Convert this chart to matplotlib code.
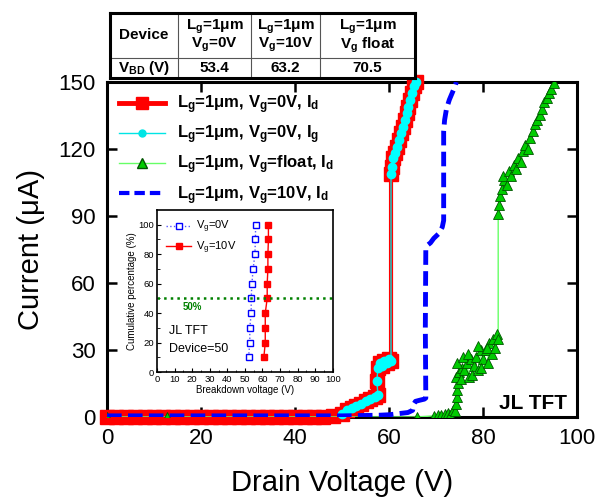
import matplotlib
matplotlib.use('Agg')
import matplotlib.pyplot as plt
from matplotlib.lines import Line2D

plt.rcParams['font.family'] = ['Liberation Sans', 'DejaVu Sans']
plt.rcParams['mathtext.fontset'] = 'custom'
plt.rcParams['mathtext.rm'] = 'Liberation Sans'
plt.rcParams['mathtext.bf'] = 'Liberation Sans:bold'
plt.rcParams['mathtext.it'] = 'Liberation Sans:italic'

# --- main curves ---
vd_0v = [0, 2, 4, 6, 8, 10, 12, 14, 16, 18, 20, 22, 24, 26, 28, 30, 32, 34, 36, 38, 40,
         42, 44, 46, 48, 50, 51, 52, 53, 54, 55, 56, 57, 57.6, 57.4, 57.6, 58, 58.5, 59,
         59.5, 60, 60.4, 60.4, 60.6, 60.9, 61.3, 61.7, 62.1, 62.5, 62.9, 63.3, 63.7, 64.1,
         64.5, 64.9, 65.3, 65.7]
id_0v = [0, 0, 0, 0, 0, 0, 0, 0, 0, 0, 0, 0, 0, 0, 0, 0, 0, 0, 0, 0, 0,
         0, 0, 0, 0.5, 1.5, 3, 4, 5, 6, 7, 8, 9, 10, 16, 22, 24, 23, 25, 24,
         26, 25, 109, 112, 116, 118, 121, 124, 127, 130, 133, 136, 139, 142,
         145, 148, 150]

vd_ig = [50, 51, 52, 53, 54, 55, 56, 57, 57.6, 57.4, 57.6, 58, 58.5, 59,
         59.5, 60, 60.4, 60.4, 60.6, 60.9, 61.3, 61.7, 62.1, 62.5, 62.9, 63.3, 63.7, 64.1,
         64.5, 64.9, 65.3, 65.7]
ig_0v = [1.5, 3, 4, 5, 6, 7, 8, 9, 10, 16, 22, 24, 23, 25, 24,
         26, 25, 109, 112, 116, 118, 121, 124, 127, 130, 133, 136, 139, 142,
         145, 148, 150]

vd_fl = [0, 12.8, 66, 69.5, 70.5, 71, 71.8, 72.5, 73, 73.5, 74, 74.2, 74.4, 74.5, 74.6, 74.3,
         74.8, 75.5, 74.5, 75.2, 76, 76.5, 77, 75.8, 77.5, 76.8, 78, 78.5, 77.6, 79, 79.5,
         78.8, 80, 80.5, 79.6, 81, 81.2, 81.8, 80.8, 82.2, 82.5, 83, 83.2, 83.2, 83.3, 83.5,
         84, 84.5, 84.2, 85, 85.5, 86, 86.5, 87, 87.5, 88, 88.5, 89, 89.5, 90, 90.5, 91,
         91.5, 92, 92.5, 93, 93.5, 94, 94.5, 95]
id_fl = [0, 0, 0, 0.5, 1, 0.8, 1.5, 2, 1, 3, 2.5, 6, 9, 12, 15, 18,
         20, 22, 24, 17, 21, 24, 18, 27, 26, 28, 23, 27, 19, 21, 30,
         32, 26, 30, 22, 24, 33, 28, 31, 35, 31, 37, 35, 91, 95, 99,
         102, 106, 108, 104, 110, 108, 113, 111, 116, 114, 119, 122, 120, 125, 128, 131,
         133, 135, 138, 141, 143, 145, 147, 149.5]

vd_10v = [0, 10, 20, 30, 40, 50, 58, 60, 62, 64, 65, 65.3, 65.6, 66.5, 67.5, 67.8, 67.7,
          67.8, 68.2, 68.8, 69.5, 70.5, 71.3, 71.6, 71.6, 71.8, 72.2, 72.8, 73.4, 74, 74.3]
id_10v = [0.5, 0.5, 0.5, 0.5, 0.5, 0.5, 0.8, 1, 1.5, 2, 3, 6, 7, 7.5, 8, 8.5, 40,
          75, 77, 78, 80, 82, 85, 88, 128, 133, 138, 142, 145, 148, 150]

# --- inset: cumulative distribution ---
cum_pct = [10, 20, 30, 40, 50, 60, 70, 80, 90, 100]
vbd_0v = [52.1, 52.8, 52.8, 53.6, 53.6, 54.0, 54.7, 55.7, 56.0, 56.1]
vbd_10v = [60.8, 61.6, 61.6, 61.6, 62.7, 62.7, 63.1, 63.1, 63.4, 63.4]

# --- table ---
tab_cols = ['Device', 'L$_\\mathbf{g}$=1μm|V$_\\mathbf{g}$=0V',
            'L$_\\mathbf{g}$=1μm|V$_\\mathbf{g}$=10V', 'L$_\\mathbf{g}$=1μm|V$_\\mathbf{g}$ float']
tab_vals = ['V$_\\mathbf{BD}$ (V)', '53.4', '63.2', '70.5']

fig = plt.figure(figsize=(6.05, 5.03), dpi=100)
ax = fig.add_axes([0.177, 0.171, 0.777, 0.666])

ax.plot(vd_0v, id_0v, color='red', lw=3, marker='s', ms=10, mec='red', mfc='red',
        zorder=3, clip_on=False)
ax.plot(vd_ig, ig_0v, color='#00e5e5', lw=1, marker='o', ms=6, mec='#00ffff',
        mfc='#00ffff', zorder=4, clip_on=False)
ax.plot(vd_fl, id_fl, color='#66ff66', lw=1, marker='^', ms=7, mfc='#00cc00',
        mec='#005500', mew=0.6, zorder=5)
ax.plot(vd_10v, id_10v, color='blue', lw=3.5, ls=(0, (3, 1.3)), zorder=6)

ax.set_xlim(0, 100)
ax.set_ylim(0, 150)
ax.set_xticks([0, 20, 40, 60, 80, 100])
ax.set_yticks([0, 30, 60, 90, 120, 150])
ax.tick_params(direction='in', length=7, width=1.8, labelsize=16, top=True, right=True,
               pad=8)
for s in ax.spines.values():
    s.set_linewidth(2.2)
    s.set_zorder(2.5)
ax.set_xlabel('Drain Voltage (V)', fontsize=21, labelpad=14)
ax.set_ylabel('Current (μA)', fontsize=21, labelpad=10)
ax.text(90.5, 6, 'JL TFT', fontsize=15, fontweight='bold', ha='center', va='center')

handles = [
    Line2D([], [], color='red', lw=3.5, marker='s', ms=9),
    Line2D([], [], color='#00e5e5', lw=1, marker='o', ms=5, mfc='#00e5e5', mec='#00e5e5'),
    Line2D([], [], color='#66ff66', lw=1, marker='^', ms=7, mfc='#00cc00', mec='#005500'),
    Line2D([], [], color='blue', lw=3, ls=(0, (2.5, 1.2))),
]
labels = ['L$_\\mathbf{g}$=1μm, V$_\\mathbf{g}$=0V, I$_\\mathbf{d}$',
          'L$_\\mathbf{g}$=1μm, V$_\\mathbf{g}$=0V, I$_\\mathbf{g}$',
          'L$_\\mathbf{g}$=1μm, V$_\\mathbf{g}$=float, I$_\\mathbf{d}$',
          'L$_\\mathbf{g}$=1μm, V$_\\mathbf{g}$=10V, I$_\\mathbf{d}$']
ax.legend(handles, labels, loc='upper left', bbox_to_anchor=(0.0, 1.0), frameon=False,
          prop={'size': 12, 'weight': 'bold'}, handlelength=2.8, handletextpad=0.7,
          labelspacing=0.45, borderaxespad=0.3)

# inset
ins = fig.add_axes([0.2595, 0.2604, 0.2905, 0.3221])
ins.set_zorder(10)
ins.plot(vbd_0v, cum_pct, color='#5555ff', lw=1, ls=':', marker='s', ms=4.5,
         mfc='white', mec='blue', mew=1, label='V$_\\mathrm{g}$=0V')
ins.plot(vbd_10v, cum_pct, color='red', lw=1, marker='s', ms=4.5, mfc='red',
         mec='red', label='V$_\\mathrm{g}$=10V')
ins.axhline(50, color='green', ls=':', lw=1.8)
ins.set_xlim(0, 100)
ins.set_ylim(0, 110)
ins.set_xticks([0, 10, 20, 30, 40, 50, 60, 70, 80, 90, 100])
ins.set_xticks([5, 15, 25, 35, 45, 55, 65, 75, 85, 95], minor=True)
ins.set_yticks([0, 20, 40, 60, 80, 100])
ins.set_yticks([10, 30, 50, 70, 90], minor=True)
ins.tick_params(which='both', direction='in', labelsize=6.8, pad=2)
ins.tick_params(which='major', length=3)
ins.tick_params(which='minor', length=1.8)
for s in ins.spines.values():
    s.set_linewidth(1.2)
ins.set_xlabel('Breakdown voltage (V)', fontsize=7, labelpad=1)
ins.set_ylabel('Cumulative percentage (%)', fontsize=7, labelpad=1)
ins.text(14.5, 44, '50%', color='green', fontsize=7, fontweight='bold', va='center')
ins.text(7, 28, 'JL TFT', fontsize=9, va='center')
ins.text(7, 15.5, 'Device=50', fontsize=9, va='center')
ins.legend(loc='upper left', frameon=False, fontsize=8, handlelength=2.3,
           handletextpad=0.4, labelspacing=0.4, borderaxespad=0.4)

# table above the plot
tx = [0.182, 0.294, 0.415, 0.529, 0.686]
ty = [0.845, 0.885, 0.974]
tab = fig.add_axes([tx[0], ty[0], tx[-1] - tx[0], ty[-1] - ty[0]])
tab.set_xlim(tx[0], tx[-1])
tab.set_ylim(ty[0], ty[-1])
tab.set_xticks([])
tab.set_yticks([])
for s in tab.spines.values():
    s.set_linewidth(2.2)
for xv in tx[1:-1]:
    tab.plot([xv, xv], [ty[0], ty[-1]], color='#555555', lw=0.8)
tab.plot([tx[0], tx[-1]], [ty[1], ty[1]], color='#555555', lw=0.8)
for i in range(4):
    xc = (tx[i] + tx[i + 1]) / 2
    parts = tab_cols[i].split('|')
    if len(parts) == 1:
        tab.text(xc, (ty[1] + ty[2]) / 2, parts[0], ha='center', va='center',
                 fontsize=11, fontweight='bold')
    else:
        tab.text(xc, ty[1] + 0.062, parts[0], ha='center', va='center',
                 fontsize=11, fontweight='bold')
        tab.text(xc, ty[1] + 0.025, parts[1], ha='center', va='center',
                 fontsize=11, fontweight='bold')
    tab.text(xc, (ty[0] + ty[1]) / 2, tab_vals[i], ha='center', va='center',
             fontsize=11, fontweight='bold')

fig.savefig('out.png', dpi=100)
